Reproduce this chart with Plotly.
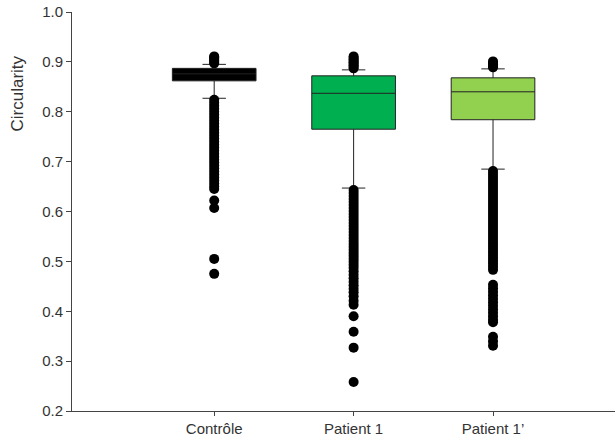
import plotly.graph_objects as go

categories = ["Contrôle", "Patient 1", "Patient 1’"]
q1 = [0.862, 0.765, 0.784]
medians = [0.876, 0.837, 0.840]
q3 = [0.887, 0.872, 0.868]
lower_whisker = [0.827, 0.647, 0.685]
upper_whisker = [0.895, 0.884, 0.886]
box_colors = ["#000000", "#00B050", "#92D050"]

ctrl_out = [0.897, 0.900, 0.903, 0.906, 0.909, 0.911,
            0.824, 0.818, 0.812, 0.806, 0.800, 0.794, 0.788, 0.782, 0.776, 0.770,
            0.764, 0.758, 0.752, 0.746, 0.740, 0.734, 0.728, 0.722, 0.716, 0.710,
            0.704, 0.698, 0.692, 0.686, 0.680, 0.674, 0.668, 0.662, 0.656, 0.650,
            0.645, 0.622, 0.607, 0.505, 0.475]
p1_out = [0.887, 0.890, 0.893, 0.896, 0.899, 0.902, 0.905, 0.908, 0.911,
          0.643, 0.637, 0.631, 0.625, 0.619, 0.613, 0.607, 0.601, 0.595, 0.589,
          0.583, 0.577, 0.571, 0.565, 0.559, 0.553, 0.547, 0.541, 0.535, 0.529,
          0.523, 0.517, 0.511, 0.505, 0.499, 0.493, 0.487, 0.480, 0.473, 0.466,
          0.459, 0.452, 0.445, 0.438, 0.430, 0.421, 0.413, 0.390, 0.359, 0.327,
          0.258]
p1p_out = [0.889, 0.892, 0.895, 0.898, 0.901,
           0.681, 0.675, 0.669, 0.663, 0.657, 0.651, 0.645, 0.639, 0.633, 0.627,
           0.621, 0.615, 0.609, 0.603, 0.597, 0.591, 0.585, 0.579, 0.573, 0.567,
           0.561, 0.555, 0.549, 0.543, 0.537, 0.531, 0.525, 0.519, 0.513, 0.507,
           0.501, 0.495, 0.489, 0.483, 0.453, 0.446, 0.439, 0.432, 0.425, 0.418,
           0.411, 0.404, 0.397, 0.390, 0.383, 0.378, 0.349, 0.340, 0.331]
outliers = [ctrl_out, p1_out, p1p_out]

fig = go.Figure()
for i, cat in enumerate(categories):
    fig.add_trace(go.Box(
        x=[cat], q1=[q1[i]], median=[medians[i]], q3=[q3[i]],
        lowerfence=[lower_whisker[i]], upperfence=[upper_whisker[i]],
        fillcolor=box_colors[i], line=dict(color="#222222", width=1),
        width=0.6, whiskerwidth=0.28, boxpoints=False, showlegend=False,
    ))
    fig.add_trace(go.Scatter(
        x=[cat] * len(outliers[i]), y=outliers[i], mode="markers",
        marker=dict(color="black", size=10, line=dict(width=0)),
        showlegend=False, hoverinfo="y",
    ))

fig.update_layout(
    width=615, height=446,
    margin=dict(l=72, r=0, t=12, b=35),
    paper_bgcolor="white", plot_bgcolor="white",
    font=dict(family="Liberation Sans, Arial, sans-serif", size=15, color="#333333"),
    showlegend=False,
    annotations=[dict(
        text="Circularity", textangle=-90, xref="paper", yref="paper",
        x=-0.1, y=0.795, xanchor="center", yanchor="middle", showarrow=False,
        font=dict(size=17, color="#333333"),
    )],
)
fig.update_xaxes(
    type="category", categoryorder="array", categoryarray=categories,
    range=[-1.02, 2.875], showline=True, linecolor="#444444", linewidth=1,
    ticks="outside", ticklen=4, tickcolor="#444444", showgrid=False, zeroline=False,
    tickfont=dict(size=15, color="#333333"), automargin=False,
)
fig.update_yaxes(
    range=[0.2, 1.0], dtick=0.1, tickformat=".1f",
    showline=True, linecolor="#444444", linewidth=1,
    ticks="outside", ticklen=5, tickcolor="#444444", showgrid=False, zeroline=False,
    tickfont=dict(size=15, color="#333333"), automargin=False,
)
# remove the browser's default 8px body margin so the figure sits at the page origin
fig.write_html("out.html", config={"displayModeBar": False},
               post_script="document.body.style.margin='0';")
